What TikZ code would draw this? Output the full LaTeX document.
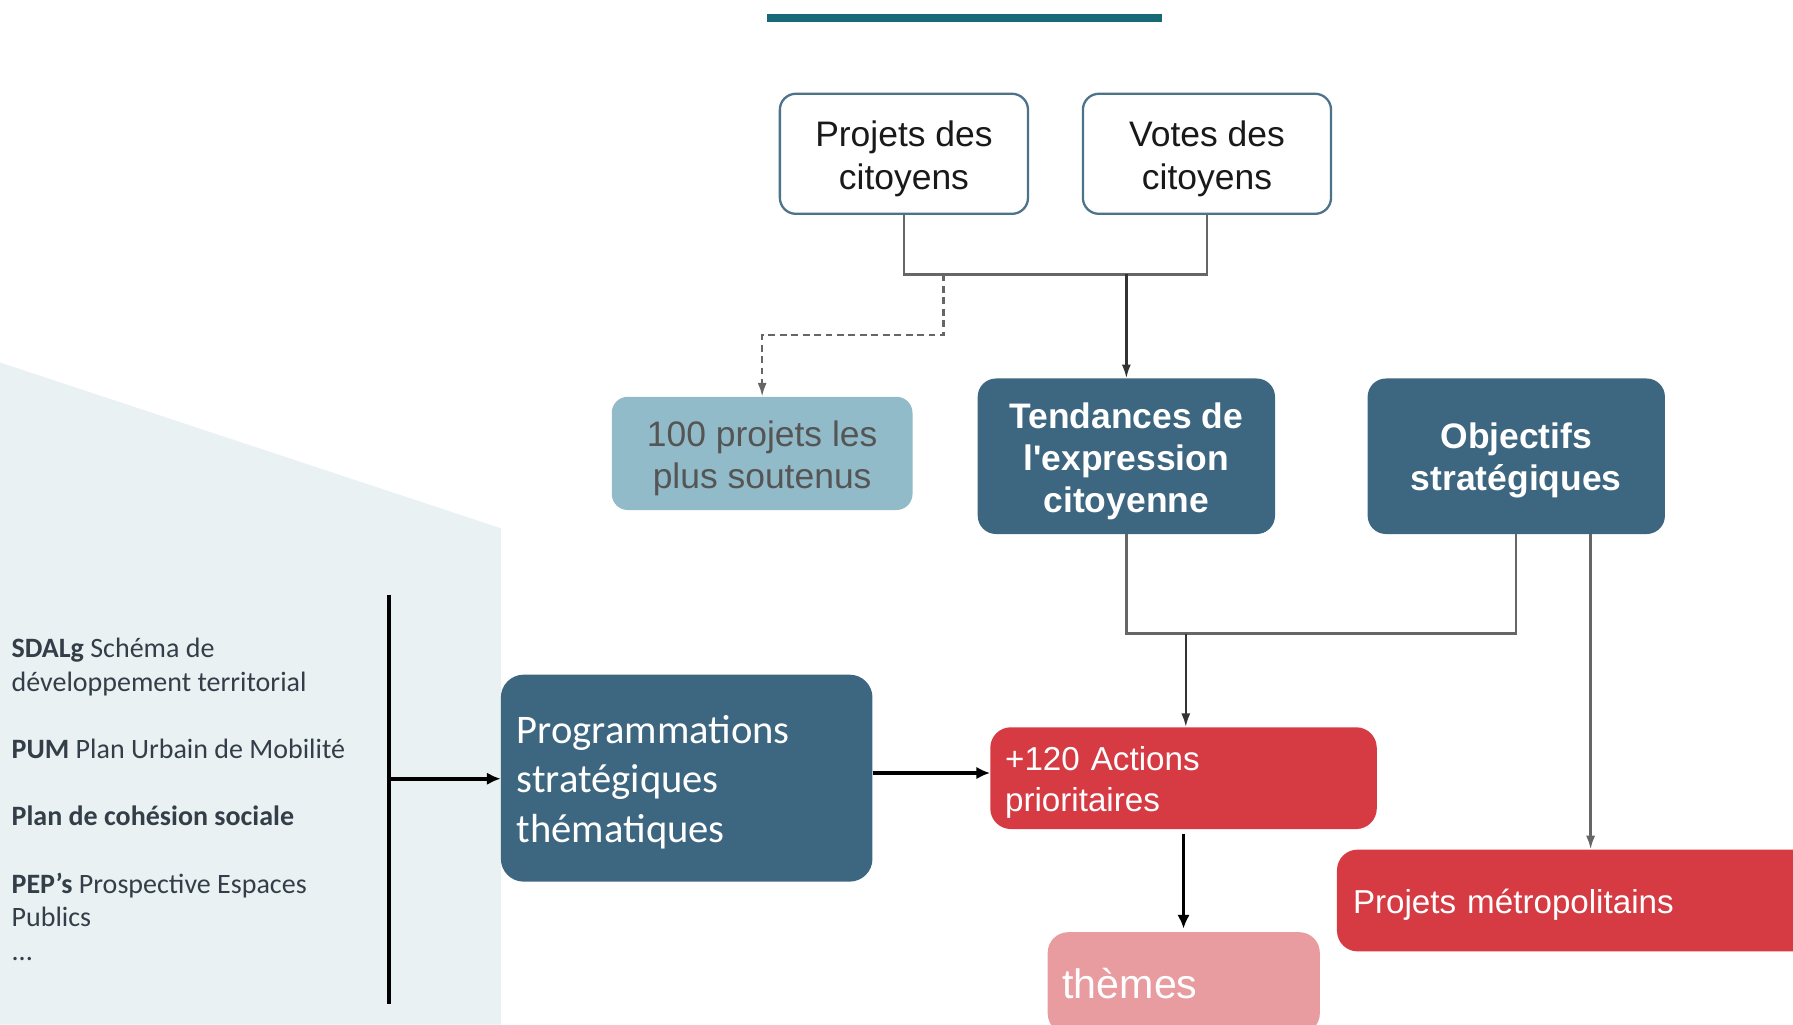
\documentclass[tikz,border=0pt]{standalone}
\usepackage{fontspec}
\setmainfont{Liberation Sans}
\newfontfamily\calfont{Carlito}
\usetikzlibrary{arrows.meta}
\definecolor{barteal}{HTML}{166A78}
\definecolor{topborder}{HTML}{4C7389}
\definecolor{lightblue}{HTML}{92BBC9}
\definecolor{slateblue}{HTML}{3D6680}
\definecolor{redbox}{HTML}{D63B44}
\definecolor{pinkbox}{HTML}{E89CA0}
\definecolor{leftbg}{HTML}{E9F1F3}
\definecolor{conngray}{HTML}{666666}
\definecolor{lefttext}{HTML}{333E48}
\definecolor{greytext}{HTML}{555555}
\newcommand{\tdrop}[1]{\rule{0pt}{\dimexpr\fontcharht\font`i+#1\relax}}
\tikzset{
  tdown/.style={execute at begin node={\tdrop{#1}}},
  topbox/.style={draw=topborder, line width=2pt, fill=white, rounded corners=14pt,
    minimum width=217pt, minimum height=105pt, inner sep=0pt, align=center,
    font=\fontsize{31}{38}\selectfont, text=black!90},
  lbbox/.style={fill=lightblue, rounded corners=14pt, minimum width=263pt, minimum height=99pt,
    inner sep=0pt, align=center, font=\fontsize{31}{37}\selectfont, text=greytext},
  darkbox/.style={fill=slateblue, rounded corners=16pt, minimum width=260pt, minimum height=136pt,
    inner sep=0pt, align=center, font=\fontsize{31}{37}\selectfont\bfseries, text=white},
  progbox/.style={fill=slateblue, rounded corners=20pt, minimum width=325pt, minimum height=181pt,
    inner xsep=14pt, inner ysep=0pt, text width=297pt, align=left,
    font=\calfont\fontsize{35.5}{43.5}\selectfont, text=white, tdown=7pt},
  redrect/.style={fill=redbox, rounded corners=18pt, minimum height=89pt, inner ysep=0pt,
    align=left, font=\fontsize{29}{36}\selectfont, text=white, tdown=8pt},
  pinkrect/.style={fill=pinkbox, rounded corners=18pt, minimum height=89pt, minimum width=238pt,
    inner xsep=13pt, inner ysep=0pt, text width=212pt, align=left,
    font=\fontsize{36}{42}\selectfont, text=white},
  conn/.style={draw=conngray, line width=2pt},
  gtip/.style={-{Latex[length=12pt,width=8pt]}},
  heavy/.style={draw=black, line width=3.5pt, -{Latex[length=12pt,width=11pt]}},
  lefttxt/.style={anchor=base west, inner sep=0pt, font=\calfont\fontsize{24.5}{29.5}\selectfont, text=lefttext}
}
\begin{document}
\begin{tikzpicture}[x=1pt,y=-1pt]
\useasboundingbox (0,0) rectangle (1568,896);
\clip (0,0) rectangle (1568,896);
\fill[white] (0,0) rectangle (1568,896);
% left background
\fill[leftbg] (0,317) -- (438,462) -- (438,896) -- (0,896) -- cycle;
% top bar
\fill[barteal] (671,12) rectangle (1016,19);

% nodes
\node[topbox] (pc) at (790.5,134.5) {\tdrop{10pt}Projets des\\citoyens};
\node[topbox] (vc) at (1055.5,134.5) {\tdrop{10pt}Votes des\\citoyens};
\node[lbbox] (hp) at (666.5,396.5) {\tdrop{10pt}100 projets les\\plus soutenus};
\node[darkbox] (tc) at (985,399) {\tdrop{10pt}Tendances de\\l\textquotesingle expression\\citoyenne};
\node[darkbox] (oc) at (1326,399) {\tdrop{9pt}Objectifs\\stratégiques};
\node[progbox] (pg) at (600.5,680.5) {Programmations\\stratégiques\\thématiques};
\node[redrect, minimum width=338pt, inner xsep=13pt, text width=312pt] (ac) at (1035,680.5) {+120 Actions\\prioritaires};
\node[pinkrect, anchor=north west] (th) at (916,815) {thèmes};
\node[redrect, anchor=west, minimum width=430pt, inner xsep=14pt, text width=402pt] (pm) at (1169,787.5) {Projets métropolitains};

% left texts
\node[lefttxt] (l1) at (10,575) {\textbf{SDALg} Schéma de};
\node[lefttxt] (l2) at (10,604.5) {développement territorial};
\node[lefttxt] (l3) at (10,663) {\textbf{PUM} Plan Urbain de Mobilité};
\node[lefttxt] (l4) at (10,722) {\textbf{Plan de cohésion sociale}};
\node[lefttxt] (l5) at (10,781) {\textbf{PEP’s} Prospective Espaces};
\node[lefttxt] (l6) at (10,810.5) {Publics};
\node[lefttxt] (l7) at (10,840) {...};

% coordinates
\coordinate (j0) at (825,240);
\coordinate (j1) at (985,240);
\coordinate (d1) at (825,293);
\coordinate (j2) at (1037,554);
\coordinate (vt) at (340,520);
\coordinate (vb) at (340,878);
\coordinate (va) at (340,681);

% top connectors
\draw[conn] (pc.south) -- (pc.south |- j1) -- (vc.south |- j1) -- (vc.south);
\draw[conn, draw=black!80, gtip] (j1) -- (tc.north);
\draw[conn, dashed, dash pattern=on 6pt off 4pt, gtip] (j0) -- (d1) -| (hp.north);

% middle connectors
\draw[conn] (tc.south) -- (tc.south |- j2) -- (oc.south |- j2) -- (oc.south);
\draw[conn, draw=black!80, gtip] (j2) -- (j2 |- ac.north);
\draw[conn, gtip] ([xshift=65pt]oc.south) -- ([xshift=65pt]oc.south |- pm.north);

% heavy arrows
\draw[line width=3.5pt] (vt) -- (vb);
\draw[heavy] (va) -- (va -| pg.west);
\draw[heavy] ([yshift=4.5pt]pg.east) -- ([yshift=4.5pt]pg.east -| ac.west);
\draw[heavy, line width=3pt, shorten <=4pt, shorten >=3pt] (ac.south) -- (th.north -| ac.south);
\end{tikzpicture}
\end{document}
